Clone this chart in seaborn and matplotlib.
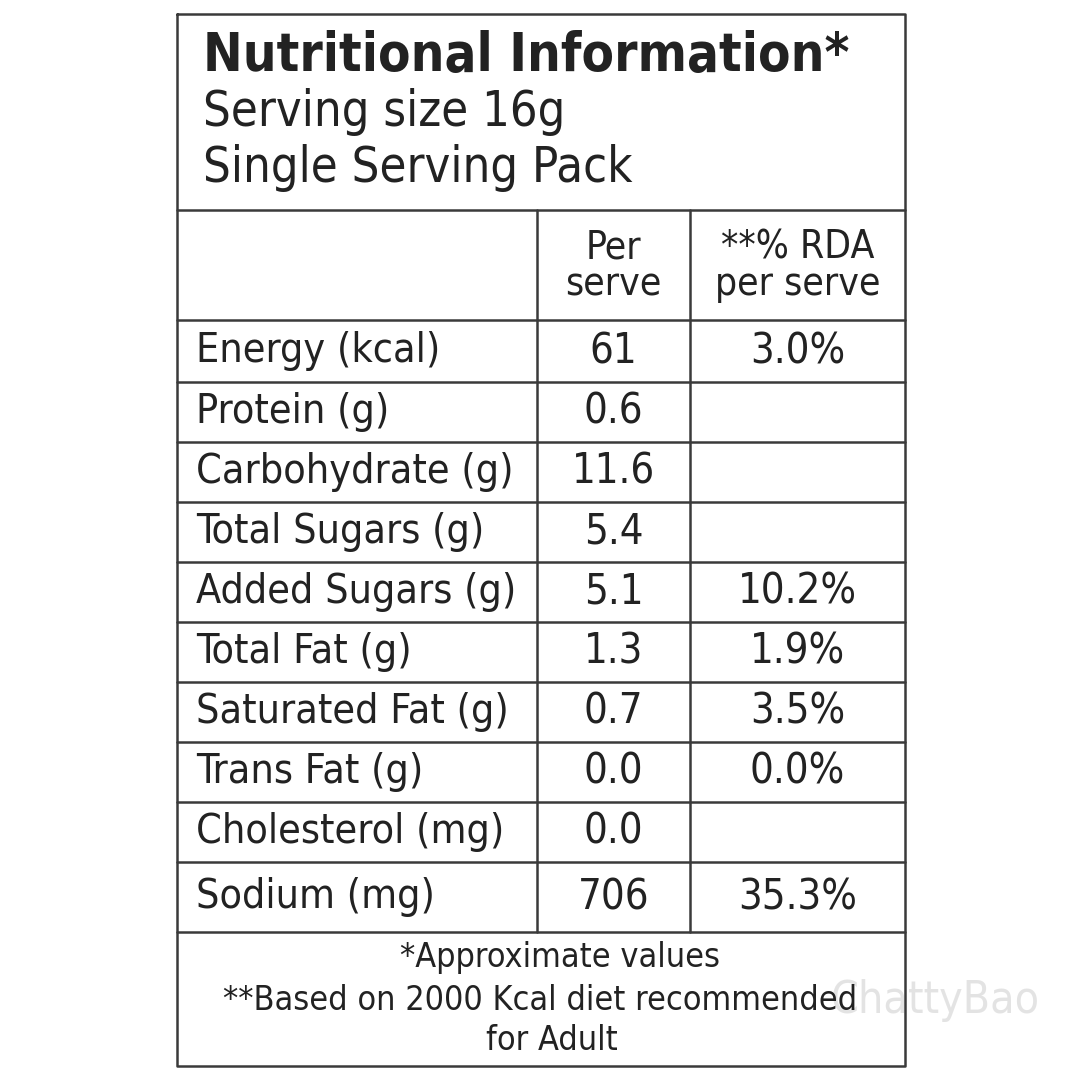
import matplotlib.pyplot as plt
import seaborn as sns

sns.set_theme(style="white")
plt.rcParams['font.family'] = ['DejaVu Sans']
plt.rcParams['font.stretch'] = 'condensed'

title = "Nutritional Information*"
subtitle = ["Serving size 16g", "Single Serving Pack"]
col_heads = ["Per\nserve", "**% RDA\nper serve"]
nutrients = ["Energy (kcal)", "Protein (g)", "Carbohydrate (g)", "Total Sugars (g)",
             "Added Sugars (g)", "Total Fat (g)", "Saturated Fat (g)", "Trans Fat (g)",
             "Cholesterol (mg)", "Sodium (mg)"]
per_serve = ["61", "0.6", "11.6", "5.4", "5.1", "1.3", "0.7", "0.0", "0.0", "706"]
rda = ["3.0%", "", "", "", "10.2%", "1.9%", "3.5%", "0.0%", "", "35.3%"]
footer = ["*Approximate values", "**Based on 2000 Kcal diet recommended", "for Adult"]

# row boundaries in pixels
row_edges = [320, 382, 442, 502, 562, 622, 682, 742, 802, 862, 932]
x0, x1, x2, x3 = 177, 537, 690, 905
top, head_bot, foot_bot = 14, 210, 1066

fig = plt.figure(figsize=(10.8, 10.8), dpi=100)
ax = fig.add_axes([0, 0, 1, 1])
ax.set_xlim(0, 1080)
ax.set_ylim(1080, 0)
ax.axis("off")

lc = "#3a3a3a"
lw = 1.8
tc = "#222222"
ax.plot([x0, x3, x3, x0, x0], [top, top, foot_bot, foot_bot, top], color=lc, lw=lw)
ax.plot([x0, x3], [head_bot, head_bot], color=lc, lw=lw)
for y in row_edges:
    ax.plot([x0, x3], [y, y], color=lc, lw=lw)
for x in (x1, x2):
    ax.plot([x, x], [head_bot, row_edges[-1]], color=lc, lw=lw)

ax.text(203, 56, title, fontsize=38, fontweight="bold", color=tc, va="center", ha="left")
ax.text(203, 112, subtitle[0], fontsize=35, color=tc, va="center", ha="left")
ax.text(203, 168, subtitle[1], fontsize=35, color=tc, va="center", ha="left")

ax.text((x1 + x2) / 2, 266, col_heads[0], fontsize=28, color=tc, va="center", ha="center", linespacing=0.95)
ax.text((x2 + x3) / 2, 266, col_heads[1], fontsize=28, color=tc, va="center", ha="center", linespacing=0.95)

for i, name in enumerate(nutrients):
    yc = (row_edges[i] + row_edges[i + 1]) / 2
    ax.text(196, yc, name, fontsize=29.5, color=tc, va="center", ha="left")
    ax.text((x1 + x2) / 2, yc, per_serve[i], fontsize=30, color=tc, va="center", ha="center")
    if rda[i]:
        ax.text((x2 + x3) / 2, yc, rda[i], fontsize=30, color=tc, va="center", ha="center")

ax.text(560, 958, footer[0], fontsize=24.5, color=tc, va="center", ha="center")
ax.text(540, 1001, footer[1], fontsize=24.5, color=tc, va="center", ha="center")
ax.text(552, 1040, footer[2], fontsize=24.5, color=tc, va="center", ha="center")

ax.text(1040, 1000, "ChattyBao", fontsize=32, color="#dddddd", alpha=0.8, va="center", ha="right", zorder=0)

fig.savefig("out.png", dpi=100, facecolor="white")
